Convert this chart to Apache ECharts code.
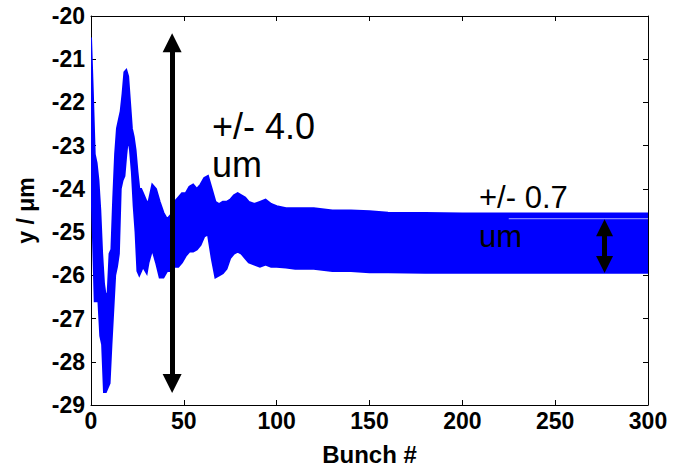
<!DOCTYPE html>
<html>
<head>
<meta charset="utf-8">
<script src="https://cdn.jsdelivr.net/npm/echarts@6/dist/echarts.min.js"></script>
<style>html,body{margin:0;padding:0;background:#fff}#c{width:681px;height:471px}</style>
</head>
<body>
<div id="c"></div>
<script>
// Bunch numbers and envelope of the oscillating orbit
var bunches = [0,1,2,3,4,5,6,7,8,9,10,11,12,13,14,15,16,17,18,19,20,21,22,23,24,25,26,27,28,30,31,33,35,37,39,41,43,45,47,49,51,53,55,57,59,61,63,65,67,69,71,73,75,77,79,81,83,85,88,91,94,97,100,105,110,120,130,140,150,160,180,200,220,240,260,280,300];
var upperY = [-20.5,-21.8,-23.2,-23.4,-23.8,-24.5,-25.5,-26.2,-26.5,-26.4,-25.5,-25.4,-24.2,-23.2,-22.6,-22.4,-22.2,-21.8,-21.3,-21.25,-21.4,-22.0,-22.6,-22.8,-23.1,-23.6,-24.0,-24.0,-24.1,-24.3,-24.3,-23.9,-24.0,-24.3,-24.55,-24.7,-24.6,-24.3,-24.2,-24.1,-24.1,-23.95,-23.9,-24.0,-23.9,-23.75,-23.7,-24.0,-24.3,-24.35,-24.3,-24.3,-24.25,-24.15,-24.1,-24.15,-24.2,-24.3,-24.35,-24.3,-24.25,-24.35,-24.4,-24.45,-24.45,-24.45,-24.5,-24.5,-24.52,-24.55,-24.56,-24.57,-24.57,-24.57,-24.57,-24.57,-24.57];
var lowerY = [-23.7,-25.0,-26.6,-26.6,-26.6,-27.4,-27.6,-28.7,-28.7,-28.6,-28.5,-27.6,-26.8,-26.0,-25.8,-25.5,-24.0,-23.8,-23.7,-23.2,-22.8,-23.1,-23.6,-24.4,-25.0,-25.9,-26.0,-25.9,-25.8,-25.95,-25.7,-25.4,-25.7,-26.05,-26.05,-25.9,-25.9,-25.8,-25.8,-25.7,-25.55,-25.45,-25.45,-25.4,-25.3,-25.1,-25.05,-25.6,-26.05,-26.0,-25.95,-25.85,-25.6,-25.5,-25.45,-25.5,-25.6,-25.7,-25.75,-25.8,-25.75,-25.8,-25.8,-25.82,-25.85,-25.85,-25.9,-25.9,-25.93,-25.93,-25.94,-25.94,-25.94,-25.94,-25.94,-25.94,-25.94];
// faint light streak inside the band
var streakX = [225, 300];
var streakY = [-24.69, -24.69];
// annotation arrows [bunch, yTop, yBottom]
var bigArrow = [43.7, -20.62, -28.5];
var smallArrow = [276.6, -24.9, -25.75];
var xTicks = {min: 0, max: 300, step: 50};
var yTicks = {min: -29, max: -20, step: 1};

var bandData = bunches.map(function(b, i){ return [b, upperY[i], lowerY[i]]; });
var streakData = streakX.map(function(x, i){ return [x, streakY[i]]; });

var chart = echarts.init(document.getElementById('c'), null, {renderer: 'svg'});
var blue = '#0000ff';
var FF = 'Liberation Sans, Arial, sans-serif';
var labelFont = {fontFamily: FF, fontWeight: 'bold', fontSize: 23, color: '#000'};
function axisCommon(extra){
  var a = {
    axisLine: {show: true, onZero: false, lineStyle: {color: '#000', width: 1}},
    axisTick: {show: true, inside: true, length: 5, lineStyle: {color: '#000'}},
    splitLine: {show: false}
  };
  for (var k in extra) a[k] = extra[k];
  return a;
}
chart.setOption({
  animation: false,
  grid: {left: 91, right: 33, top: 16, bottom: 52},
  xAxis: [
    axisCommon({type: 'value', min: xTicks.min, max: xTicks.max, interval: xTicks.step, position: 'bottom',
      axisLabel: Object.assign({margin: 4}, labelFont),
      name: 'Bunch #', nameLocation: 'middle', nameGap: 37,
      nameTextStyle: {fontFamily: FF, fontWeight: 'bold', fontSize: 24, color: '#000'}}),
    axisCommon({type: 'value', min: xTicks.min, max: xTicks.max, interval: xTicks.step, position: 'top', axisLabel: {show: false}})
  ],
  yAxis: [
    axisCommon({type: 'value', min: yTicks.min, max: yTicks.max, interval: yTicks.step, position: 'left',
      axisLabel: Object.assign({margin: 6}, labelFont),
      name: 'y / μm', nameLocation: 'middle', nameGap: 54, nameRotate: 90,
      nameTextStyle: {fontFamily: FF, fontWeight: 'bold', fontSize: 23, color: '#000'}}),
    axisCommon({type: 'value', min: yTicks.min, max: yTicks.max, interval: yTicks.step, position: 'right', axisLabel: {show: false}})
  ],
  series: [
    {type: 'custom', name: 'band', data: bandData, silent: true, z: 2, clip: true,
      encode: {x: 0, y: [1, 2]},
      renderItem: function(params, api){
        if (params.dataIndex !== 0) return null;
        var pts = [];
        var i;
        for (i = 0; i < bunches.length; i++) pts.push(api.coord([bunches[i], upperY[i]]));
        for (i = bunches.length - 1; i >= 0; i--) pts.push(api.coord([bunches[i], lowerY[i]]));
        return {type: 'polygon', shape: {points: pts},
          style: {fill: blue, stroke: blue, lineWidth: 2, lineJoin: 'miter'}};
      }},
    {type: 'line', name: 'streak', data: streakData, symbol: 'none', silent: true,
      lineStyle: {color: '#a8a8ff', width: 1}, z: 3},
    {type: 'line', name: 'arrows', data: [], silent: true, z: 5,
      markLine: {
        silent: true, symbol: ['triangle', 'triangle'], label: {show: false},
        emphasis: {disabled: true},
        lineStyle: {color: '#000', width: 5, type: 'solid'},
        data: [
          [{coord: [bigArrow[0], bigArrow[1]], symbolSize: 19}, {coord: [bigArrow[0], bigArrow[2]], symbolSize: 19}],
          [{coord: [smallArrow[0], smallArrow[1]], symbolSize: 17}, {coord: [smallArrow[0], smallArrow[2]], symbolSize: 17}]
        ]
      }}
  ],
  graphic: [
    {type: 'text', left: 212, top: 107, z: 10, style: {text: '+/- 4.0\num', font: '36px "Liberation Sans", Arial, sans-serif', fill: '#000', lineHeight: 38}},
    {type: 'text', left: 479, top: 178, z: 10, style: {text: '+/- 0.7\num', font: '31px "Liberation Sans", Arial, sans-serif', fill: '#000', lineHeight: 39}}
  ]
});
</script>
</body>
</html>
